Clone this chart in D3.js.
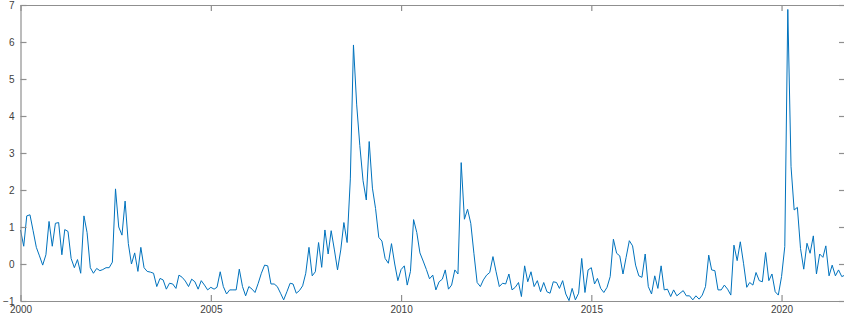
<!DOCTYPE html>
<html>
<head>
<meta charset="utf-8">
<script src="https://cdn.jsdelivr.net/npm/d3@7"></script>
<style>
  html, body { margin: 0; padding: 0; background: #fff; }
  svg { display: block; }
</style>
</head>
<body>
<svg id="chart" width="844" height="322"></svg>
<script>
// Monthly series, starting January 2000
const startYear = 2000;
const startMonth = 0;
const values = [
  0.92, 0.48, 1.30, 1.33, 0.90, 0.45, 0.22, -0.03, 0.25, 1.15, 0.48, 1.10,
  1.12, 0.25, 0.93, 0.88, 0.15, -0.10, 0.12, -0.25, 1.30, 0.85, -0.10, -0.25,
  -0.12, -0.18, -0.15, -0.10, -0.10, 0.05, 2.03, 1.00, 0.78, 1.70, 0.55, 0.00,
  0.30, -0.20, 0.45, -0.10, -0.20, -0.22, -0.25, -0.61, -0.39, -0.43, -0.68, -0.52,
  -0.54, -0.66, -0.30, -0.36, -0.46, -0.61, -0.41, -0.48, -0.68, -0.45, -0.57, -0.70,
  -0.63, -0.68, -0.63, -0.21, -0.61, -0.81, -0.70, -0.70, -0.70, -0.14, -0.61, -0.86,
  -0.61, -0.68, -0.77, -0.52, -0.25, -0.03, -0.05, -0.54, -0.54, -0.61, -0.79, -0.97,
  -0.75, -0.52, -0.54, -0.79, -0.72, -0.59, -0.25, 0.45, -0.32, -0.21, 0.58, -0.09,
  0.92, 0.27, 0.90, 0.38, -0.16, 0.38, 1.12, 0.58, 2.30, 5.92, 4.30, 3.20,
  2.25, 1.73, 3.31, 2.05, 1.50, 0.72, 0.62, 0.15, 0.02, 0.55, 0.00, -0.45,
  -0.15, -0.05, -0.57, -0.20, 1.20, 0.85, 0.30, 0.08, -0.15, -0.40, -0.30, -0.70,
  -0.48, -0.41, -0.16, -0.68, -0.57, -0.16, -0.27, 2.74, 1.21, 1.48, 1.10, 0.29,
  -0.50, -0.61, -0.43, -0.30, -0.23, 0.20, -0.21, -0.61, -0.52, -0.54, -0.27, -0.70,
  -0.63, -0.50, -0.88, -0.05, -0.48, -0.21, -0.61, -0.45, -0.75, -0.50, -0.75, -0.79,
  -0.48, -0.50, -0.66, -0.45, -0.81, -0.99, -0.66, -0.97, -0.79, 0.15, -0.77, -0.16,
  -0.10, -0.54, -0.39, -0.66, -0.77, -0.63, -0.34, 0.67, 0.29, 0.22, -0.27, 0.18,
  0.63, 0.49, -0.03, -0.32, -0.36, 0.27, -0.61, -0.81, -0.32, -0.66, -0.05, -0.70,
  -0.68, -0.88, -0.70, -0.86, -0.79, -0.72, -0.86, -0.86, -0.97, -0.86, -0.95, -0.84,
  -0.61, 0.24, -0.16, -0.18, -0.70, -0.70, -0.57, -0.68, -0.84, 0.51, 0.09, 0.60,
  0.02, -0.63, -0.50, -0.57, -0.23, -0.45, -0.48, 0.31, -0.45, -0.27, -0.75, -0.84,
  -0.34, 0.47, 6.88, 2.63, 1.46, 1.53, 0.42, -0.14, 0.56, 0.29, 0.76, -0.27,
  0.27, 0.18, 0.49, -0.32, -0.03, -0.32, -0.16, -0.34, -0.30
];
const xTickYears = [2000, 2005, 2010, 2015, 2020];
const yTicks = [-1, 0, 1, 2, 3, 4, 5, 6, 7];
const yDomain = [-1, 7];

const data = values.map((v, i) => ({ date: new Date(startYear, startMonth + i, 1), value: v }));

const svg = d3.select("#chart");
const pLeft = 20.5, pRight = 845, pTop = 5, pBottom = 301;

const x = d3.scaleTime()
  .domain([data[0].date, data[data.length - 1].date])
  .range([pLeft, pRight]);
const y = d3.scaleLinear().domain(yDomain).range([pBottom, pTop]);

const axisColor = "#8f8f8f";
const textColor = "#404040";
const tickLen = 6;
const xTickDates = xTickYears.map(yr => new Date(yr, 0, 1));

// Line
const line = d3.line().x(d => x(d.date)).y(d => y(d.value));
svg.append("path")
  .datum(data)
  .attr("fill", "none")
  .attr("stroke", "#0072BD")
  .attr("stroke-width", 1)
  .attr("stroke-linejoin", "round")
  .attr("d", line);

// Bottom axis (ticks pointing inward/up)
const gB = svg.append("g").attr("transform", `translate(0,${pBottom})`)
  .call(d3.axisBottom(x).tickValues(xTickDates).tickSizeInner(-tickLen).tickSizeOuter(0)
    .tickPadding(5).tickFormat(d3.timeFormat("%Y")));
// Top axis (ticks pointing down)
const gT = svg.append("g").attr("transform", `translate(0,${pTop})`)
  .call(d3.axisTop(x).tickValues(xTickDates).tickSizeInner(-tickLen).tickSizeOuter(0).tickFormat(""));
// Left axis
const gL = svg.append("g").attr("transform", `translate(${pLeft},0)`)
  .call(d3.axisLeft(y).tickValues(yTicks).tickSizeInner(-tickLen).tickSizeOuter(0)
    .tickPadding(6).tickFormat(d3.format("d")));
// Right axis
const gR = svg.append("g").attr("transform", `translate(${pRight},0)`)
  .call(d3.axisRight(y).tickValues(yTicks).tickSizeInner(-tickLen).tickSizeOuter(0).tickFormat(""));

[gB, gT, gL, gR].forEach(g => {
  g.select(".domain").attr("stroke", axisColor).attr("stroke-width", 1.2);
  g.selectAll(".tick line").attr("stroke", axisColor).attr("stroke-width", 1.2);
  g.selectAll(".tick text")
    .attr("fill", textColor)
    .style("font-family", "'Liberation Sans', Arial, Helvetica, sans-serif")
    .style("font-size", "10px");
});
gB.selectAll(".tick text").attr("dy", "0.71em");
</script>
</body>
</html>
